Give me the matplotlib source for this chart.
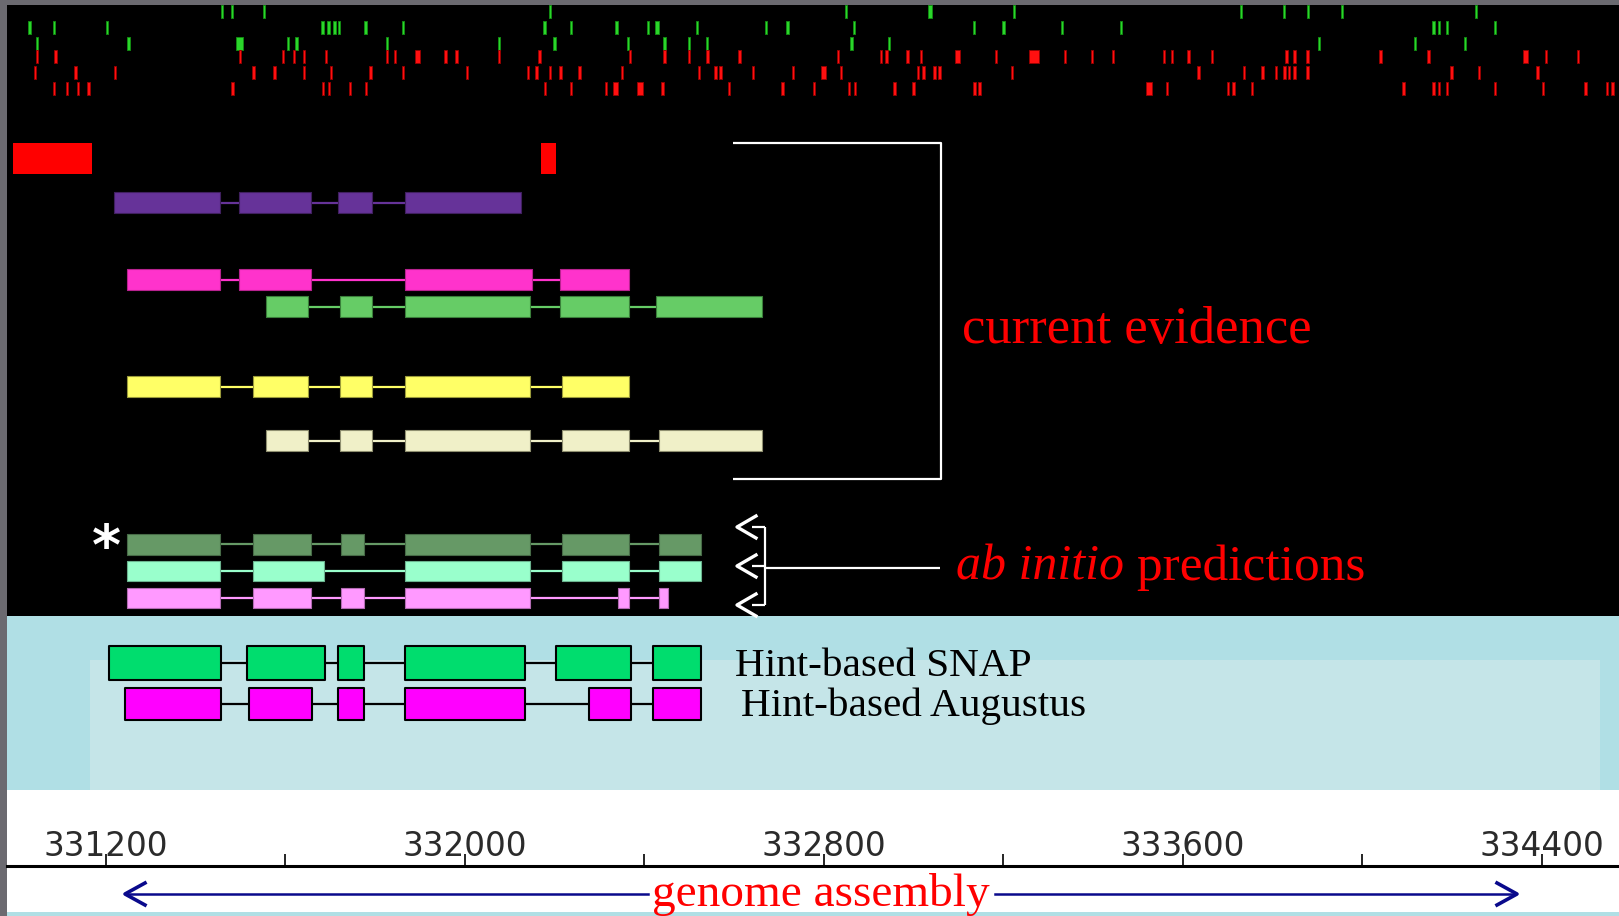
import matplotlib.pyplot as plt
from matplotlib.patches import Rectangle

# canvas (pixels) and genome scale
W, H = 1619, 916
BP0 = 330964.0          # genome position at left edge
BP_PER_PX = 2.2284
BP1 = BP0 + W * BP_PER_PX

# ruler
major_ticks = [331200, 332000, 332800, 333600, 334400]
minor_ticks = [331600, 332400, 333200, 334000]

# feature marks on top (bp), three green rows then three red rows
green_row1 = [331459, 331481, 331552, 332190, 332849, 333036, 333224, 333729,
              333825, 333879, 333954, 334253]
green_row2 = [331030, 331084, 331202, 331683, 331696, 331709, 331719, 331779,
              331862, 332177, 332237, 332338, 332408, 332429, 332517, 332671,
              332719, 332867, 333134, 333200, 333331, 333462, 334158, 334171,
              334189, 334295]
green_row3 = [331047, 331250, 331498, 331606, 331625, 331826, 332076, 332200,
              332363, 332445, 332499, 332540, 332861, 332945, 333903, 334117,
              334229]
red_row1 = [331047, 331088, 331499, 331595, 331619, 331642, 331690, 331826,
            331844, 331894, 331957, 331981, 332076, 332166, 332368, 332445,
            332499, 332541, 332612, 332831, 332927, 332939, 332986, 333016,
            333097, 333183, 333269, 333337, 333397, 333444, 333558, 333576,
            333612, 333665, 333831, 333849, 333878, 334040, 334147, 334363,
            334409, 334480]
red_row2 = [331042, 331132, 331220, 331529, 331576, 331642, 331702, 331790,
            331862, 332005, 332141, 332160, 332190, 332213, 332255, 332350,
            332522, 332558, 332570, 332642, 332731, 332799, 332838, 333010,
            333022, 333046, 333058, 333219, 333635, 333736, 333777, 333807,
            333826, 333837, 333849, 333878, 334199, 334260, 334390]
red_row3 = [331084, 331113, 331138, 331161, 331482, 331684, 331697, 331744,
            331780, 332178, 332237, 332314, 332335, 332390, 332440, 332588,
            332708, 332778, 332856, 332869, 332957, 333000, 333136, 333147,
            333524, 333564, 333700, 333713, 333754, 334092, 334158, 334171,
            334189, 334295, 334403, 334497, 334545, 334557]
# marks that are wider than the default (bp)
wide_marks = {333036: 9, 332429: 9, 331498: 16, 331894: 11, 333097: 11,
              333269: 22, 334363: 11, 332799: 11, 332335: 11, 332390: 13,
              333524: 13}

# single red blocks
red_blocks = [(330993, 331170), (332169, 332204)]

# gene models (exon start, end)
purple_exons = [(331218, 331454), (331497, 331656), (331718, 331793), (331867, 332126)]
pink_exons = [(331248, 331454), (331497, 331656), (331867, 332150), (332212, 332365)]
green_exons = [(331556, 331651), (331722, 331793), (331867, 332144), (332212, 332365),
               (332426, 332661)]
yellow_exons = [(331248, 331454), (331528, 331651), (331722, 331793), (331867, 332144),
                (332217, 332365)]
cream_exons = [(331556, 331651), (331722, 331793), (331867, 332144), (332217, 332365),
               (332432, 332661)]
abinitio1_exons = [(331247, 331454), (331528, 331656), (331723, 331775), (331867, 332144),
                   (332217, 332365), (332432, 332525)]
abinitio2_exons = [(331247, 331454), (331528, 331686), (331867, 332144), (332217, 332365),
                   (332432, 332525)]
abinitio3_exons = [(331247, 331454), (331528, 331656), (331723, 331775), (331867, 332144),
                   (332342, 332365), (332432, 332452)]
snap_exons = [(331206, 331456), (331515, 331688), (331718, 331776), (331867, 332134),
              (332204, 332370), (332419, 332525)]
augustus_exons = [(331243, 331456), (331519, 331659), (331718, 331776), (331867, 332134),
                  (332276, 332370), (332419, 332525)]

fig = plt.figure(figsize=(W / 100, H / 100), dpi=100, facecolor='#6b6a70')

# background panels, pixel coordinates
ax_b = fig.add_axes([0, 0, 1, 1])
ax_b.set_xlim(0, W)
ax_b.set_ylim(H, 0)
ax_b.axis('off')
ax_b.add_patch(Rectangle((7, 5), W - 7, 611, color='black', lw=0))
ax_b.add_patch(Rectangle((7, 616), W - 7, 174, color='#b0dfe5', lw=0))
ax_b.add_patch(Rectangle((90, 660), 1510, 130, color='#c5e5e8', lw=0))
ax_b.add_patch(Rectangle((7, 790), W - 7, 122, color='white', lw=0))
ax_b.add_patch(Rectangle((7, 912), W - 7, 4, color='#b0dfe5', lw=0))

# tracks, genome coordinates on x
ax = fig.add_axes([0, 0, 1, 1])
ax.set_xlim(BP0, BP1)
ax.set_ylim(H, 0)
ax.axis('off')
ax.patch.set_visible(False)

mark_rows = [(green_row1, 5, '#2bd62b', '#129012'),
             (green_row2, 21, '#2bd62b', '#129012'),
             (green_row3, 37, '#2bd62b', '#129012'),
             (red_row1, 50, '#ff1010', '#990000'),
             (red_row2, 66, '#ff1010', '#990000'),
             (red_row3, 82, '#ff1010', '#990000')]
for row, top, fc, ec in mark_rows:
    spans = [(p - wide_marks.get(p, 5.5) / 2, wide_marks.get(p, 5.5)) for p in row]
    ax.broken_barh(spans, (top, 13), facecolors=fc, edgecolors=ec, linewidth=0.6)

ax.broken_barh([(s, e - s) for s, e in red_blocks], (143, 31), facecolors='#ff0000')


def draw_gene(exons, top, height, fc, ec, line_color, lw_line, lw_edge):
    yc = top + height / 2
    ax.hlines(yc, exons[0][0], exons[-1][1], color=line_color, lw=lw_line, zorder=2)
    ax.broken_barh([(s, e - s) for s, e in exons], (top, height),
                   facecolors=fc, edgecolors=ec, linewidth=lw_edge, zorder=3)


draw_gene(purple_exons, 192, 21, '#663399', '#40205f', '#663399', 1.6, 0.8)
draw_gene(pink_exons, 269, 21, '#ff33cc', '#b8228f', '#ff33cc', 1.6, 0.8)
draw_gene(green_exons, 296, 21, '#66cc66', '#3a7f3a', '#66cc66', 1.6, 0.8)
draw_gene(yellow_exons, 376, 21, '#ffff66', '#9a9a3a', '#ffff66', 1.6, 0.8)
draw_gene(cream_exons, 430, 21, '#f0f0c8', '#8f8f70', '#f0f0c8', 1.6, 0.8)
draw_gene(abinitio1_exons, 534, 20.5, '#669966', '#476b47', '#669966', 1.6, 0.8)
draw_gene(abinitio2_exons, 560.5, 20.5, '#99ffcc', '#6bb38f', '#99ffcc', 1.6, 0.8)
draw_gene(abinitio3_exons, 587.5, 20.5, '#ff99ff', '#b36bb3', '#ff99ff', 1.6, 0.8)
draw_gene(snap_exons, 646, 34, '#00dd6e', 'black', 'black', 1.6, 1.5)
draw_gene(augustus_exons, 688, 32, '#ff00ff', 'black', 'black', 1.6, 1.5)

# annotations, pixel coordinates
white_kw = dict(color='white', lw=1.6, solid_capstyle='butt')
ax_b.plot([733, 941, 941, 733], [143, 143, 479, 479], **white_kw)
ax_b.text(962, 343, 'current evidence', color='#ff0000', fontsize=38,
          family='Liberation Serif', va='baseline')

for yc in [527, 566, 605]:
    ax_b.plot([756, 737, 756], [yc - 11, yc, yc + 11], color='white', lw=2.4)
    ax_b.plot([752, 765], [yc, yc], **white_kw)
ax_b.plot([765, 765], [527, 605], **white_kw)
ax_b.plot([765, 940], [568, 568], **white_kw)
t_ab = ax_b.text(956, 580, 'ab initio', color='#ff0000', fontsize=36, style='italic',
                 family='Liberation Serif', va='baseline')
ax_b.annotate(' predictions', xy=(1, 0), xycoords=t_ab, color='#ff0000',
              fontsize=37, family='Liberation Serif', va='bottom')
ax_b.text(106, 564, '*', color='white', fontsize=40, fontweight='bold',
          ha='center', va='baseline')

ax_b.text(735, 676, 'Hint-based SNAP', color='black', fontsize=29.7,
          family='Liberation Serif', va='baseline')
ax_b.text(741, 716, 'Hint-based Augustus', color='black', fontsize=29.7,
          family='Liberation Serif', va='baseline')

# genome assembly arrow
navy = '#0a0a8c'
ax_b.plot([126, 648], [894, 894], color=navy, lw=1.8)
ax_b.plot([995, 1514], [894, 894], color=navy, lw=1.8)
ax_b.plot([145, 125, 145], [883, 894, 905], color=navy, lw=2.6)
ax_b.plot([1497, 1517, 1497], [883, 894, 905], color=navy, lw=2.6)
ax_b.text(821, 906, 'genome assembly', color='#ff0000', fontsize=34,
          family='Liberation Serif', ha='center', va='baseline')

# ruler
ax_r = fig.add_axes([7 / W, 0, 1 - 7 / W, 50 / H])
ax_r.set_xlim(BP0 + 7 * BP_PER_PX, BP1)
ax_r.set_ylim(0, 1)
ax_r.patch.set_visible(False)
for side in ['left', 'right', 'bottom']:
    ax_r.spines[side].set_visible(False)
ax_r.spines['top'].set_linewidth(2.2)
ax_r.xaxis.set_ticks_position('top')
ax_r.set_xticks(major_ticks)
ax_r.set_xticklabels([str(t) for t in major_ticks])
ax_r.set_xticks(minor_ticks, minor=True)
ax_r.tick_params(axis='x', which='both', direction='out', length=8.6, width=1.2,
                 labelsize=23.5, labelcolor='#2b2b2b', pad=-6.5)
ax_r.set_yticks([])

fig.savefig('out.png', dpi=100, facecolor=fig.get_facecolor())
